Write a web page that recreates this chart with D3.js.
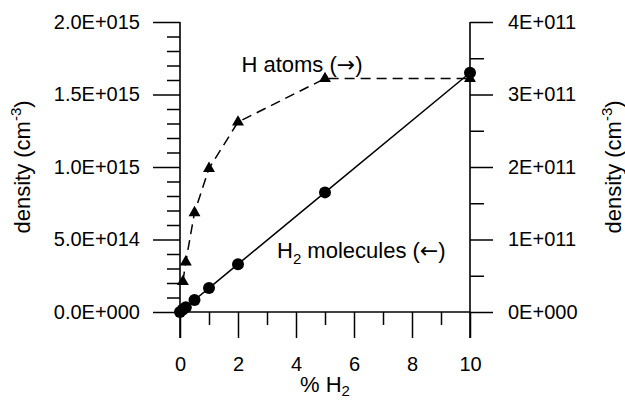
<!DOCTYPE html>
<html>
<head>
<meta charset="utf-8">
<script src="https://cdn.jsdelivr.net/npm/d3@7/dist/d3.min.js"></script>
<style>
  html, body { margin: 0; padding: 0; background: #fff; }
  svg { display: block; font-family: "Liberation Sans", Arial, sans-serif; }
</style>
</head>
<body>
<svg id="chart" width="625" height="400"></svg>
<script>
// H2 fraction in the gas (%)
const pctH2 = [0, 0.1, 0.2, 0.5, 1, 2, 5, 10];
// H2 molecule density (cm^-3), left axis
const h2Density = [0, 1.65e13, 3.3e13, 8.3e13, 1.65e14, 3.3e14, 8.25e14, 1.65e15];
// H2 fraction for the atomic hydrogen measurements (%)
const pctH = [0.1, 0.2, 0.5, 1, 2, 5, 10];
// H atom density (cm^-3), right axis
const hDensity = [4.2e10, 6.9e10, 1.37e11, 1.98e11, 2.62e11, 3.22e11, 3.22e11];

// axis ticks and their labels
const xTicks = [0, 2, 4, 6, 8, 10];
const xMinorTicks = [1, 3, 5, 7, 9];
const leftTicks = [0, 5e14, 1e15, 1.5e15, 2e15];
const leftTickLabels = ["0.0E+000", "5.0E+014", "1.0E+015", "1.5E+015", "2.0E+015"];
const leftMinorTicks = [1e14, 2e14, 3e14, 4e14, 6e14, 7e14, 8e14, 9e14, 1.1e15, 1.2e15, 1.3e15, 1.4e15, 1.6e15, 1.7e15, 1.8e15, 1.9e15];
const rightTicks = [0, 1e11, 2e11, 3e11, 4e11];
const rightTickLabels = ["0E+000", "1E+011", "2E+011", "3E+011", "4E+011"];
const rightMinorTicks = [0.5e11, 1.5e11, 2.5e11, 3.5e11];

const svg = d3.select("#chart");
svg.append("rect").attr("width", 625).attr("height", 400).attr("fill", "#fff");

const plotLeft = 180, plotRight = 470, plotTop = 22, plotBottom = 312;
const majorLen = 26;

const x = d3.scaleLinear().domain([0, 10]).range([plotLeft, plotRight]);
const yL = d3.scaleLinear().domain([0, 2e15]).range([plotBottom, plotTop]);
const yR = d3.scaleLinear().domain([0, 4e11]).range([plotBottom, plotTop]);

function styleAxis(g, width) {
  g.selectAll("path.domain").remove();
  g.selectAll(".tick line").attr("stroke", "#000").attr("stroke-width", width);
  g.selectAll(".tick text").attr("fill", "#000").attr("font-size", 20)
    .attr("font-family", "'Liberation Sans', Arial, sans-serif");
}

// bottom axis
const gx = svg.append("g").attr("transform", `translate(0,${plotBottom})`)
  .call(d3.axisBottom(x).tickValues(xTicks).tickFormat(d3.format("d"))
    .tickSize(majorLen).tickPadding(19));
styleAxis(gx, 1.5);
const gxm = svg.append("g").attr("transform", `translate(0,${plotBottom})`)
  .call(d3.axisBottom(x).tickValues(xMinorTicks).tickFormat("").tickSize(13));
styleAxis(gxm, 1.5);

// left axis
const gl = svg.append("g").attr("transform", `translate(${plotLeft},0)`)
  .call(d3.axisLeft(yL).tickValues(leftTicks)
    .tickFormat((d, i) => leftTickLabels[i]).tickSize(27).tickPadding(13));
styleAxis(gl, 1.5);
const glm = svg.append("g").attr("transform", `translate(${plotLeft},0)`)
  .call(d3.axisLeft(yL).tickValues(leftMinorTicks).tickFormat("").tickSize(13));
styleAxis(glm, 1.5);

// right axis
const gr = svg.append("g").attr("transform", `translate(${plotRight},0)`)
  .call(d3.axisRight(yR).tickValues(rightTicks)
    .tickFormat((d, i) => rightTickLabels[i]).tickSize(23).tickPadding(15));
styleAxis(gr, 1.5);
const grm = svg.append("g").attr("transform", `translate(${plotRight},0)`)
  .call(d3.axisRight(yR).tickValues(rightMinorTicks).tickFormat("").tickSize(14));
styleAxis(grm, 1.5);

// axis lines: verticals run down past the x axis to the length of a major tick
svg.append("line").attr("x1", plotLeft).attr("x2", plotLeft).attr("y1", plotTop).attr("y2", plotBottom + majorLen)
  .attr("stroke", "#000").attr("stroke-width", 1.6);
svg.append("line").attr("x1", plotRight).attr("x2", plotRight).attr("y1", plotTop).attr("y2", plotBottom + majorLen)
  .attr("stroke", "#000").attr("stroke-width", 1.6);
svg.append("line").attr("x1", plotLeft).attr("x2", plotRight).attr("y1", plotBottom).attr("y2", plotBottom)
  .attr("stroke", "#000").attr("stroke-width", 1.6);

// H atom series (right axis), dashed
const hPts = pctH.map((p, i) => [x(p), yR(hDensity[i])]);
svg.append("path").attr("d", d3.line()(hPts))
  .attr("fill", "none").attr("stroke", "#000").attr("stroke-width", 1.5)
  .attr("stroke-dasharray", "10,6");
svg.selectAll("path.tri").data(hPts).join("path").attr("class", "tri")
  .attr("transform", d => `translate(${d[0]},${d[1]})`)
  .attr("d", d3.symbol().type(d3.symbolTriangle).size(62))
  .attr("fill", "#000");

// H2 molecule series (left axis), solid
const h2Pts = pctH2.map((p, i) => [x(p), yL(h2Density[i])]);
svg.append("path").attr("d", d3.line()(h2Pts))
  .attr("fill", "none").attr("stroke", "#000").attr("stroke-width", 1.5);
svg.selectAll("circle.h2").data(h2Pts).join("circle").attr("class", "h2")
  .attr("cx", d => d[0]).attr("cy", d => d[1]).attr("r", 6).attr("fill", "#000");

// axis titles
const xt = svg.append("text").attr("x", (plotLeft + plotRight) / 2).attr("y", 392)
  .attr("text-anchor", "middle").attr("font-size", 22).attr("fill", "#000");
xt.append("tspan").text("% H");
xt.append("tspan").attr("dy", 4).attr("font-size", 15).text("2");

function yTitle(xPos) {
  const t = svg.append("text")
    .attr("transform", `translate(${xPos},${(plotTop + plotBottom) / 2}) rotate(-90)`)
    .attr("text-anchor", "middle").attr("font-size", 22).attr("fill", "#000");
  t.append("tspan").text("density (cm");
  t.append("tspan").attr("dy", -9).attr("font-size", 15).text("-3");
  t.append("tspan").attr("dy", 9).text(")");
}
yTitle(30);
yTitle(621);

// series annotations (arrows point to the axis each series is read on)
const arrowFont = "'DejaVu Sans', sans-serif";
const at = svg.append("text").attr("x", 302).attr("y", 72).attr("text-anchor", "middle")
  .attr("font-size", 22).attr("fill", "#000");
at.append("tspan").text("H atoms (");
at.append("tspan").attr("font-family", arrowFont).text("\u2192");
at.append("tspan").text(")");

const ht = svg.append("text").attr("x", 277).attr("y", 258)
  .attr("font-size", 22).attr("fill", "#000");
ht.append("tspan").text("H");
ht.append("tspan").attr("dy", 6).attr("font-size", 15).text("2");
ht.append("tspan").attr("dy", -6).text(" molecules (");
ht.append("tspan").attr("font-family", arrowFont).text("\u2190");
ht.append("tspan").text(")");
</script>
</body>
</html>
